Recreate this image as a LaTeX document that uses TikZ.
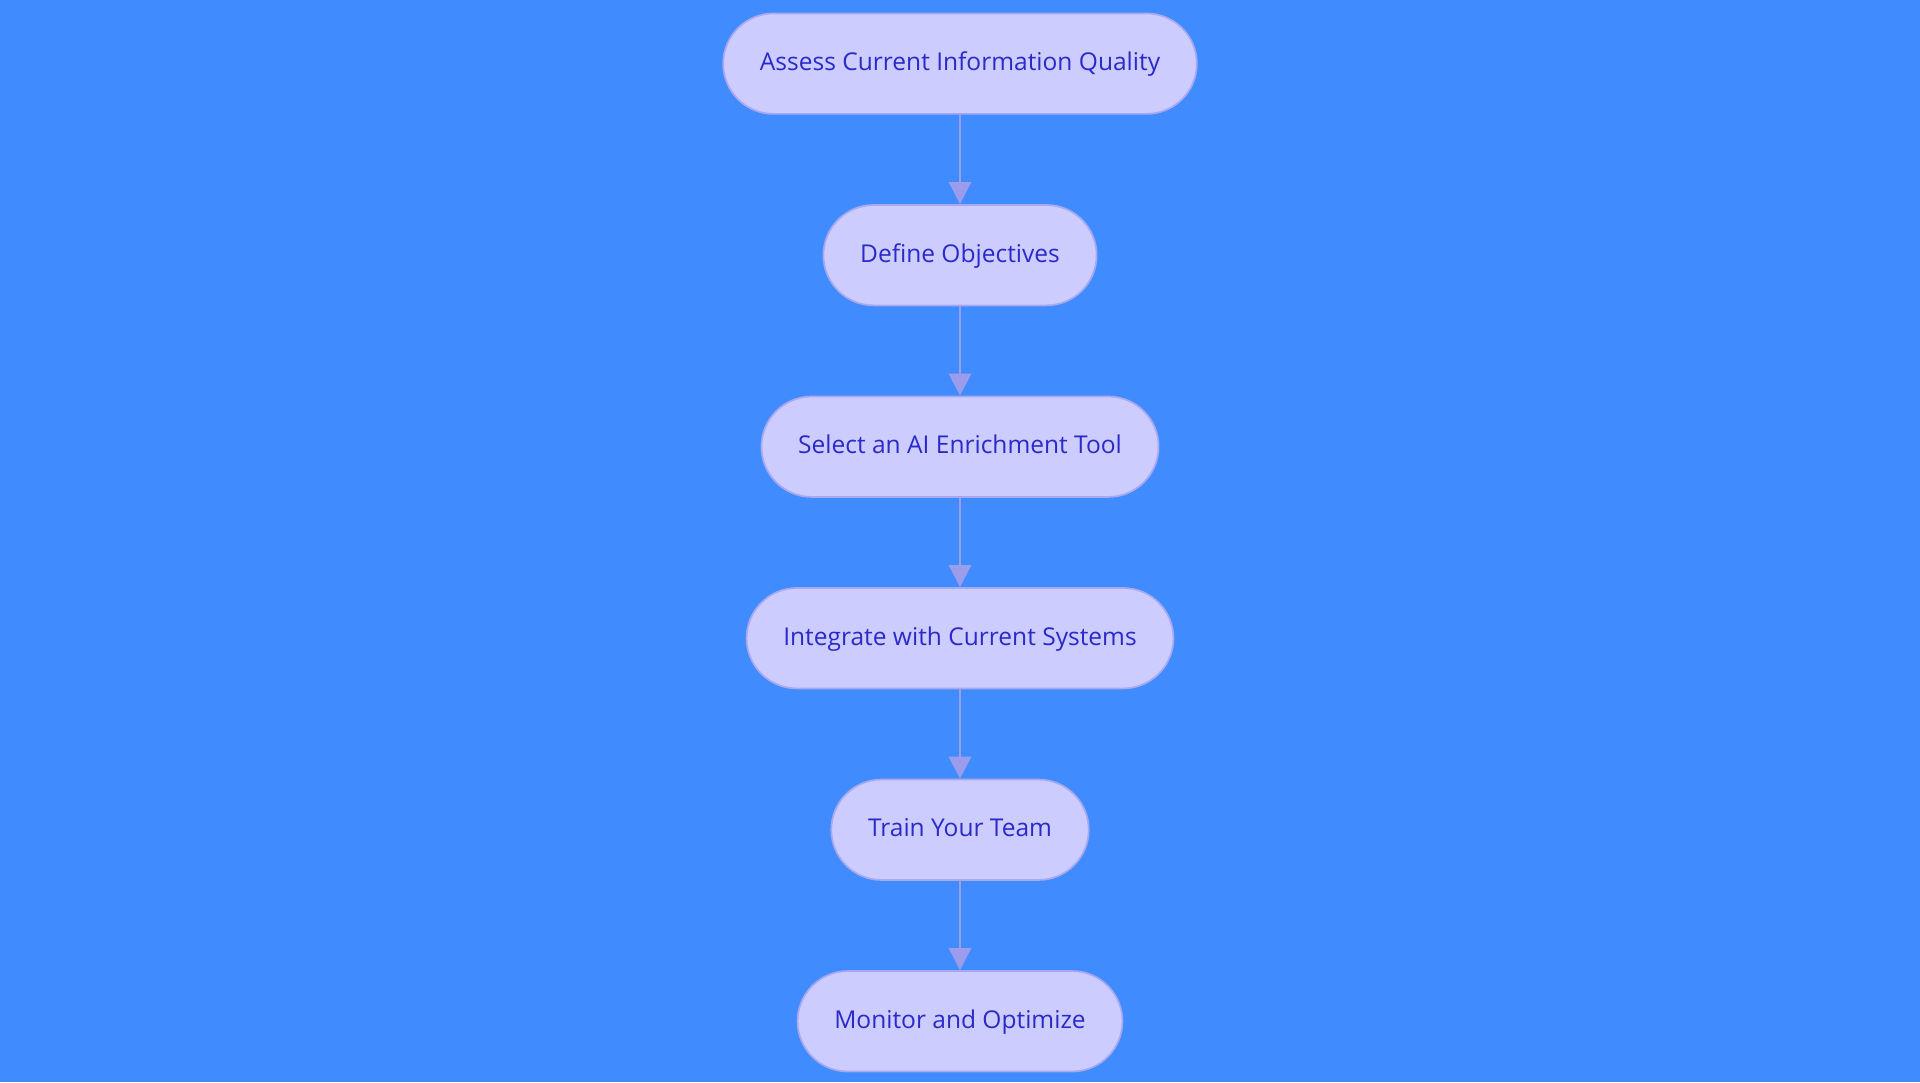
\documentclass[tikz,border=0pt]{standalone}
\usepackage{fontspec}
\setmainfont{Open Sans}
\usetikzlibrary{arrows.meta,positioning}
\definecolor{bgblue}{HTML}{408CFF}
\definecolor{stepfill}{HTML}{CCCCFF}
\definecolor{stepdraw}{HTML}{A8A8F0}
\definecolor{steptext}{HTML}{2A2AC8}
\definecolor{linkcol}{HTML}{9C9CEC}
\tikzset{
  stage/.style={draw=stepdraw, fill=stepfill, line width=0.8pt, rounded corners=0.82cm,
    minimum height=1.64cm, inner xsep=0.6cm, text=steptext, text height=1.6ex, text depth=0.4ex,
    font=\fontsize{11.4}{14}\selectfont},
  link/.style={draw=linkcol, line width=1.3pt, -{Triangle[length=0.36cm,width=0.36cm]}}
}
\begin{document}
\begin{tikzpicture}
  \fill[bgblue] (0,0) rectangle (31.36,-17.68);
  \useasboundingbox (0,0) rectangle (31.36,-17.68);

  % Stages
  \node[stage] (assess) at (15.68,-1.04) {Assess Current Information Quality};
  \node[stage, below=1.46cm of assess] (define) {Define Objectives};
  \node[stage, below=1.46cm of define] (select) {Select an AI Enrichment Tool};
  \node[stage, below=1.46cm of select] (integrate) {Integrate with Current Systems};
  \node[stage, below=1.46cm of integrate] (train) {Train Your Team};
  \node[stage, below=1.46cm of train] (monitor) {Monitor and Optimize};

  % Links
  \draw[link] (assess) -- (define);
  \draw[link] (define) -- (select);
  \draw[link] (select) -- (integrate);
  \draw[link] (integrate) -- (train);
  \draw[link] (train) -- (monitor);
\end{tikzpicture}
\end{document}
